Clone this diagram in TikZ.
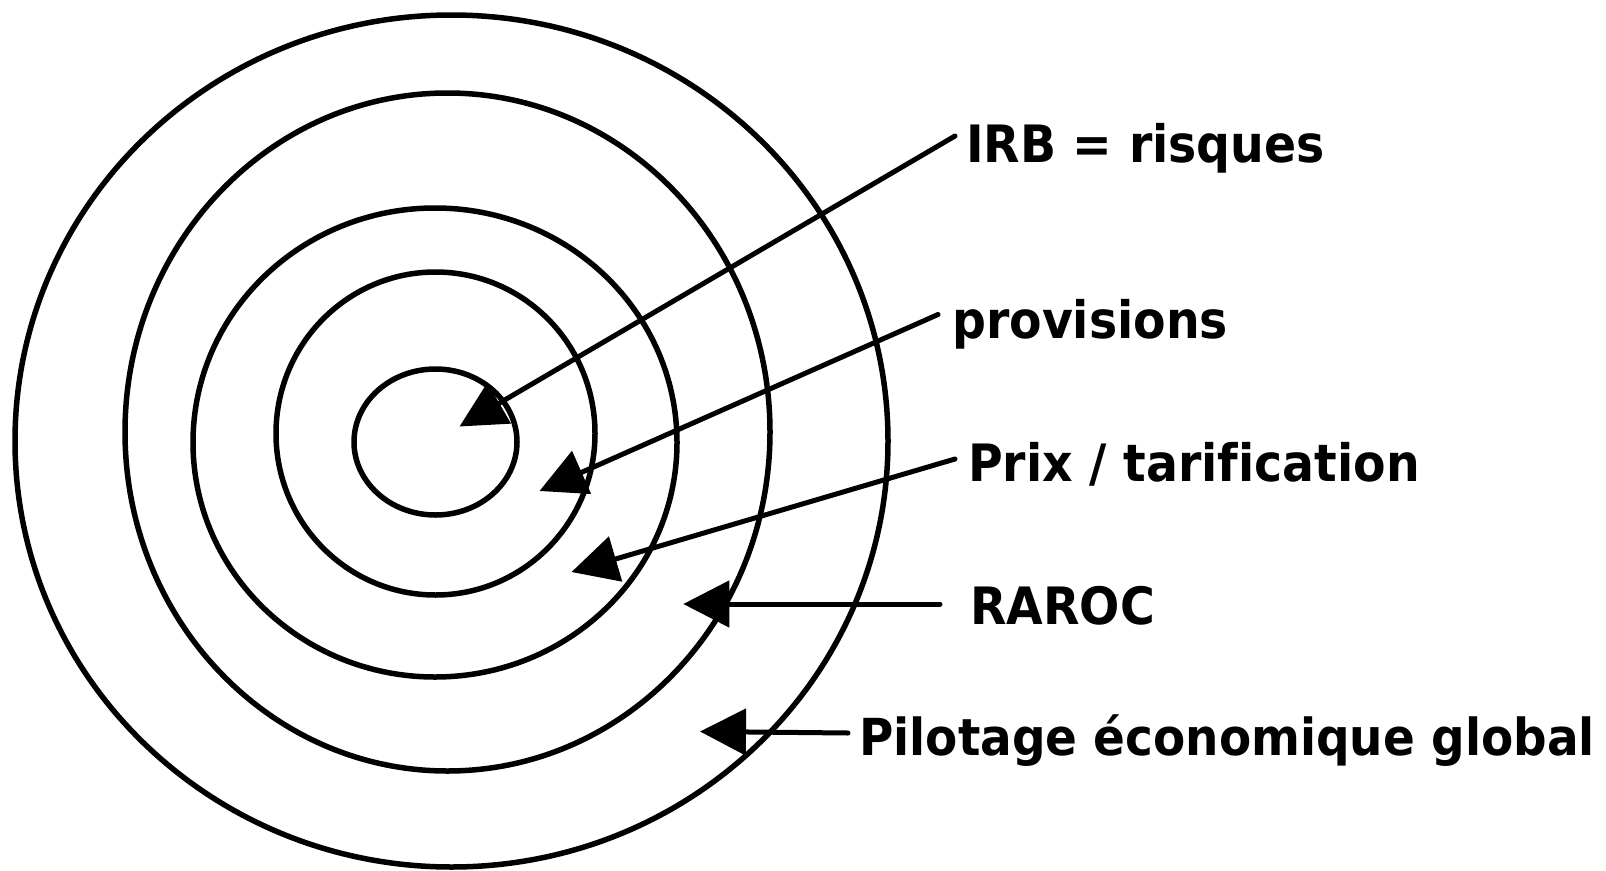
\documentclass[tikz,border=0pt]{standalone}
\usepackage{fontspec}
\setmainfont{DejaVu Sans}[FakeStretch=0.92,Ligatures=NoCommon]
\usetikzlibrary{arrows.meta}
\begin{document}
\begin{tikzpicture}[x=1pt,y=-1pt,
  ring/.style={line width=5.5pt},
  arr/.style={line width=5pt, line cap=round, -{Triangle[length=46pt,width=46pt]}},
  lbl/.style={anchor=base west, inner sep=0pt, font=\fontsize{51.5}{56}\selectfont\bfseries}]
\useasboundingbox (0,0) rectangle (1606,870);
% rings
\draw[ring] (451.5,441) ellipse [x radius=436.5pt, y radius=426pt];
\draw[ring] (447.5,432) ellipse [x radius=322.5pt, y radius=339pt];
\draw[ring] (435,442.5) ellipse [x radius=242pt, y radius=234.5pt];
\draw[ring] (435.5,433.5) ellipse [x radius=159.5pt, y radius=161.5pt];
\draw[ring] (435.5,442) ellipse [x radius=81.5pt, y radius=73pt];
% labels
\node[lbl] (irb) at (966,162) {IRB = risques};
\node[lbl] (prov) at (952,338) {provisions};
\node[lbl] (prix) at (968,481) {Prix / tarification};
\node[lbl] (raroc) at (970,624) {RAROC};
\node[lbl,font=\fontsize{51}{56}\selectfont\bfseries] (pil) at (859,755) {Pilotage économique global};
% arrow targets
\coordinate (irbT) at (459.5,426.5);
\coordinate (provT) at (539.5,491);
\coordinate (prixT) at (571.5,572);
\coordinate (rarT) at (683.3,604);
\coordinate (pilT) at (700,731.5);
% arrows
\draw[arr] ([shift={(-11pt,26pt)}]irb.base west) -- (irbT);
\draw[arr] ([shift={(-14pt,23.5pt)}]prov.base west) -- (provT);
\draw[arr] ([shift={(-13pt,22pt)}]prix.base west) -- (prixT);
\draw[arr] ([shift={(-30pt,20pt)}]raroc.base west) -- (rarT);
\draw[arr] ([shift={(-11pt,22pt)}]pil.base west) -- (pilT);
\end{tikzpicture}
\end{document}
